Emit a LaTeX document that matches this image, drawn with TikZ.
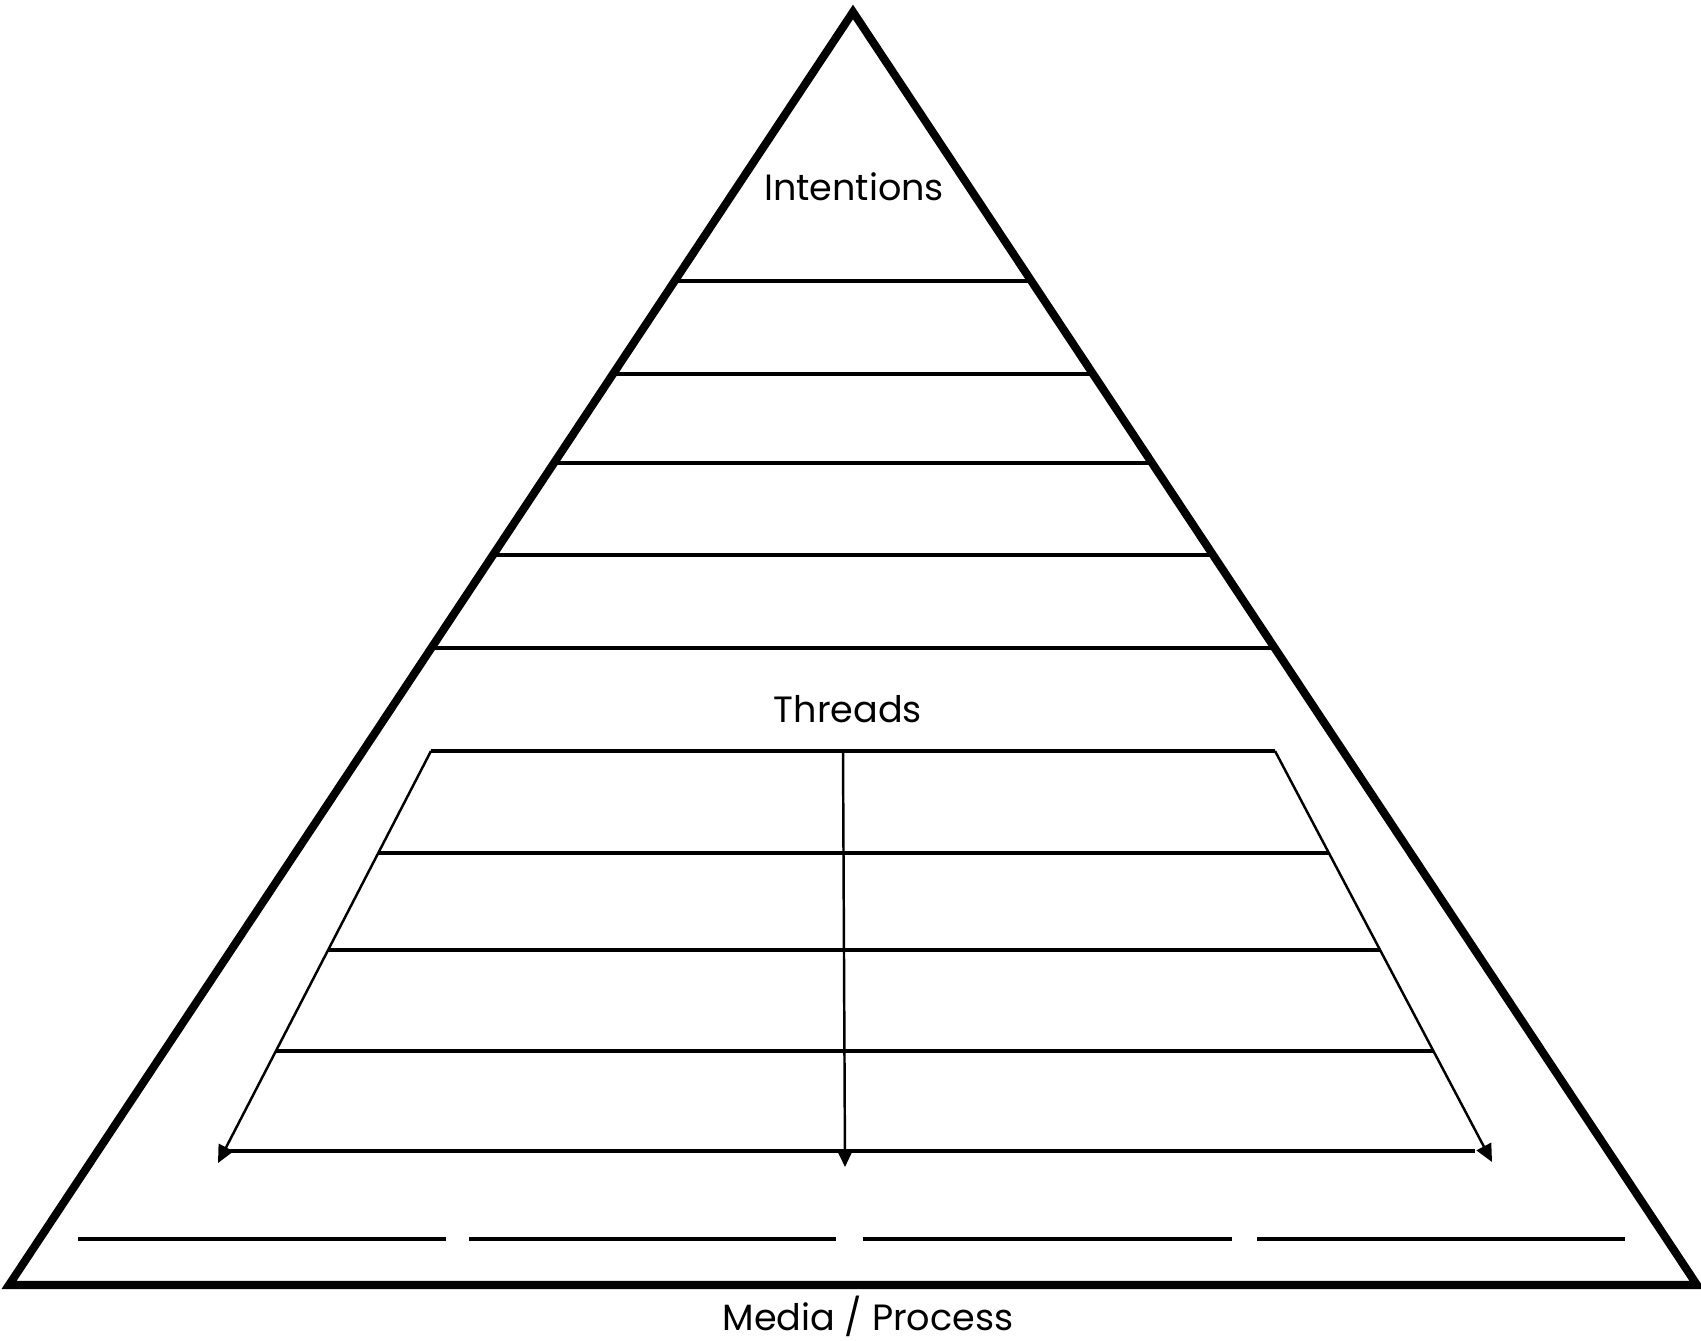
\documentclass[tikz,border=0pt]{standalone}
\usepackage{fontspec}
\setmainfont{Poppins}
\usetikzlibrary{calc,arrows.meta}

\begin{document}
\begin{tikzpicture}[x=0.01cm,y=-0.01cm,
        every node/.style={font=\fontsize{10.4}{12.5}\selectfont},
        frame/.style={line width=2.3pt,line join=miter},
        level/.style={line width=1.1pt},
        flow/.style={line width=0.7pt,-{Triangle[length=5pt,width=4.6pt]}}]
        \useasboundingbox (0,0) rectangle (1701,1340);

        % 三角形顶点
        \coordinate (apex) at (853,12);
        \coordinate (bl) at (9,1285);
        \coordinate (br) at (1697,1285);
        \draw[frame] (apex) -- (br) -- (bl) -- cycle;

        % 上部分层线
        \foreach \y in {281,374,463,555,648}
            {
                \draw[level] ($(apex)!{(\y-12)/1273}!(bl)$) -- ($(apex)!{(\y-12)/1273}!(br)$);
            }

        % 文字
        \node (intentions) at (854,187) {Intentions};
        \node (threads) at (848,709) {Threads};
        \node (media) at (868,1316) {Media / Process};

        % Threads 区域
        \coordinate (tl) at (431,751);
        \coordinate (tr) at (1275,751);
        \coordinate (tm) at (843,751);
        \coordinate (tipL) at (218,1163);
        \coordinate (tipR) at (1492,1162);
        \coordinate (tipM) at (845,1167);
        \draw[level] (tl) -- (tr);
        \draw[flow] (tl) -- (tipL);
        \draw[flow] (tr) -- (tipR);
        \draw[flow] (tm) -- (tipM);
        \foreach \y in {853,950,1051}
            {
                \draw[level] ($(tl)!{(\y-751)/412}!(tipL)$) -- ($(tr)!{(\y-751)/411}!(tipR)$);
            }
        \coordinate (bottomL) at (228,1151);
        \coordinate (bottomR) at (1475,1151);
        \draw[level] (bottomL) -- (bottomR);

        % 底部短线
        \foreach \a/\b in {78/446,469/836,863/1232,1257/1625}
            {
                \draw[level] (\a,1239) -- (\b,1239);
            }

    \end{tikzpicture}
\end{document}
